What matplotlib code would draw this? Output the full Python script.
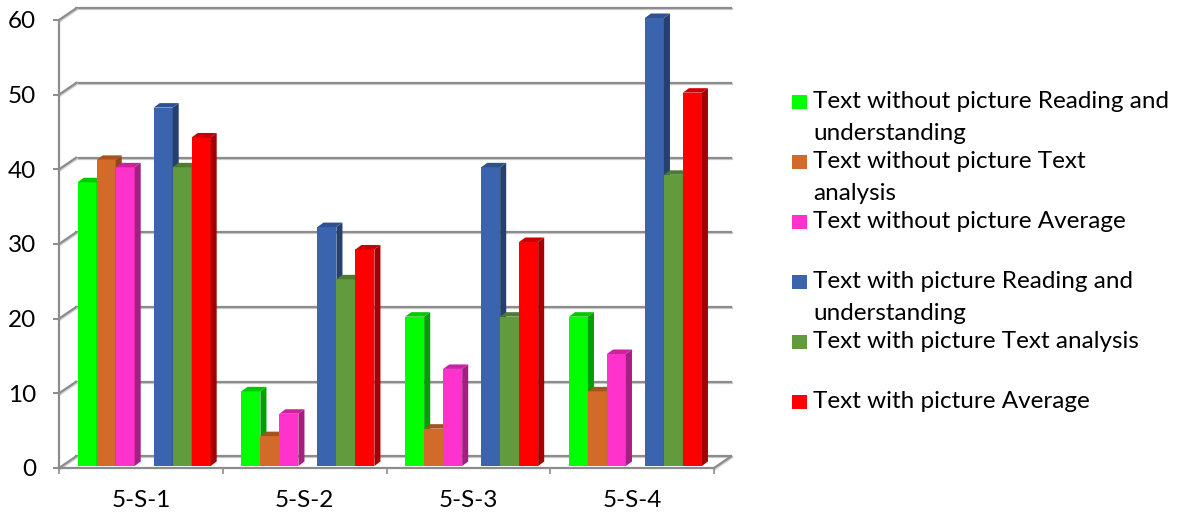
import textwrap
import matplotlib

matplotlib.use("Agg")

import matplotlib.pyplot as plt
import matplotlib.patheffects as pe
from matplotlib.patches import Polygon, Rectangle


# chart data
categories = ["5-S-1", "5-S-2", "5-S-3", "5-S-4"]
series_names = [
    "Text without picture Reading and understanding",
    "Text without picture Text analysis",
    "Text without picture Average",
    "Text with picture Reading and understanding",
    "Text with picture Text analysis",
    "Text with picture Average",
]
no_pic_reading = [38, 10, 20, 20]
no_pic_analysis = [41, 4, 5, 10]
no_pic_average = [40, 7, 13, 15]
pic_reading = [48, 32, 40, 60]
pic_analysis = [40, 25, 20, 39]
pic_average = [44, 29, 30, 50]
y_ticks = [0, 10, 20, 30, 40, 50, 60]

series_values = [no_pic_reading, no_pic_analysis, no_pic_average,
                 pic_reading, pic_analysis, pic_average]

# front / side / top shades for the fake 3d bars
front_colors = ["#00ff00", "#d26b2a", "#ff33cc", "#3a64ad", "#629b3e", "#ff0000"]
side_colors = ["#00a000", "#8f4717", "#a31f80", "#253f6e", "#3f6427", "#a40000"]
top_colors = ["#00c800", "#a5531e", "#cc22a0", "#2f5191", "#4d7c30", "#cc0000"]

# slot of each series inside a category (empty slot in the middle)
slots = [0, 1, 2, 4, 5, 6]
bar_w = 0.116

# depth of the floor / walls and of one bar, in data units
wall_dx, wall_dy = 0.104, 1.55
bar_dx, bar_dy = 0.037, 0.6
plane_dx, plane_dy = 0.02, 0.27

grid_color = "#8c8c8c"
font_name = "Lato"
font_size = 17.5

plt.rcParams["font.family"] = [font_name, "DejaVu Sans"]

fig = plt.figure(figsize=(11.85, 5.17), dpi=100)
ax = fig.add_axes([59 / 1185, 49 / 517, 655 / 1185, 448 / 517])
ax.set_xlim(-0.5, len(categories) - 0.5)
ax.set_ylim(0, 60)

shadow = [pe.SimpleLineShadow(offset=(0.7, -0.7), shadow_color="#cfcfcf", alpha=1),
          pe.Normal()]

# back wall gridlines and the left wall diagonals
x_lo, x_hi = -0.5, len(categories) - 0.5
for v in y_ticks:
    ax.plot([x_lo + wall_dx, x_hi + wall_dx], [v + wall_dy, v + wall_dy],
            color=grid_color, lw=1.6, clip_on=False, zorder=1, path_effects=shadow)
    ax.plot([x_lo, x_lo + wall_dx], [v, v + wall_dy],
            color=grid_color, lw=1.6, clip_on=False, zorder=1, path_effects=shadow)

# right edge of the floor
ax.plot([x_hi, x_hi + wall_dx], [0, wall_dy], color=grid_color, lw=1.6,
        clip_on=False, zorder=1, path_effects=shadow)

# bars, drawn left to right so each front face hides the previous side face
for i, values in enumerate(series_values):
    lefts = [c - 3.5 * bar_w + slots[i] * bar_w + plane_dx for c in range(len(categories))]
    z = 3 + 2 * i
    bars = ax.bar(lefts, values, width=bar_w, bottom=plane_dy, align="edge",
                  color=front_colors[i], linewidth=0, zorder=z)
    for rect in bars:
        rect.set_clip_on(False)
    for left, v in zip(lefts, values):
        right = left + bar_w
        top = v + plane_dy
        side = Polygon([(right, plane_dy), (right + bar_dx, plane_dy + bar_dy),
                        (right + bar_dx, top + bar_dy), (right, top)],
                       closed=True, facecolor=side_colors[i], linewidth=0,
                       zorder=z + 1, clip_on=False)
        cap = Polygon([(left, top), (right, top), (right + bar_dx, top + bar_dy),
                       (left + bar_dx, top + bar_dy)],
                      closed=True, facecolor=top_colors[i], linewidth=0,
                      zorder=z + 1, clip_on=False)
        ax.add_patch(side)
        ax.add_patch(cap)

# axes lines
for side_name in ["top", "right"]:
    ax.spines[side_name].set_visible(False)
for side_name in ["left", "bottom"]:
    ax.spines[side_name].set_color(grid_color)
    ax.spines[side_name].set_linewidth(1.6)
    ax.spines[side_name].set_zorder(2)

ax.set_yticks(y_ticks)
ax.tick_params(axis="y", direction="out", length=4.5, width=1.4, color=grid_color,
               pad=12, labelsize=font_size)

ax.set_xticks([b - 0.5 for b in range(len(categories) + 1)])
ax.set_xticklabels([])
ax.set_xticks(range(len(categories)), minor=True)
ax.set_xticklabels(categories, minor=True, fontsize=font_size)
ax.tick_params(axis="x", which="major", direction="out", length=4.5, width=1.2,
               color=grid_color)
ax.tick_params(axis="x", which="minor", length=0, pad=16)
ax.set_facecolor("none")

# legend on the right, drawn by hand so the names wrap like the original
legend_top = 102
legend_step = 60
line_step = 32
for i, name in enumerate(series_names):
    y_px = legend_top + i * legend_step
    fig.patches.append(Rectangle((792 / 1185, 1 - (y_px + 7) / 517), 15 / 1185, 14 / 517,
                                 transform=fig.transFigure, facecolor=front_colors[i],
                                 linewidth=0))
    for k, line in enumerate(textwrap.fill(name, 32).split("\n")):
        fig.text(813 / 1185, 1 - (y_px + k * line_step) / 517, line,
                 fontsize=font_size, va="center", ha="left")

plt.savefig("out.png", dpi=100)
plt.close()
